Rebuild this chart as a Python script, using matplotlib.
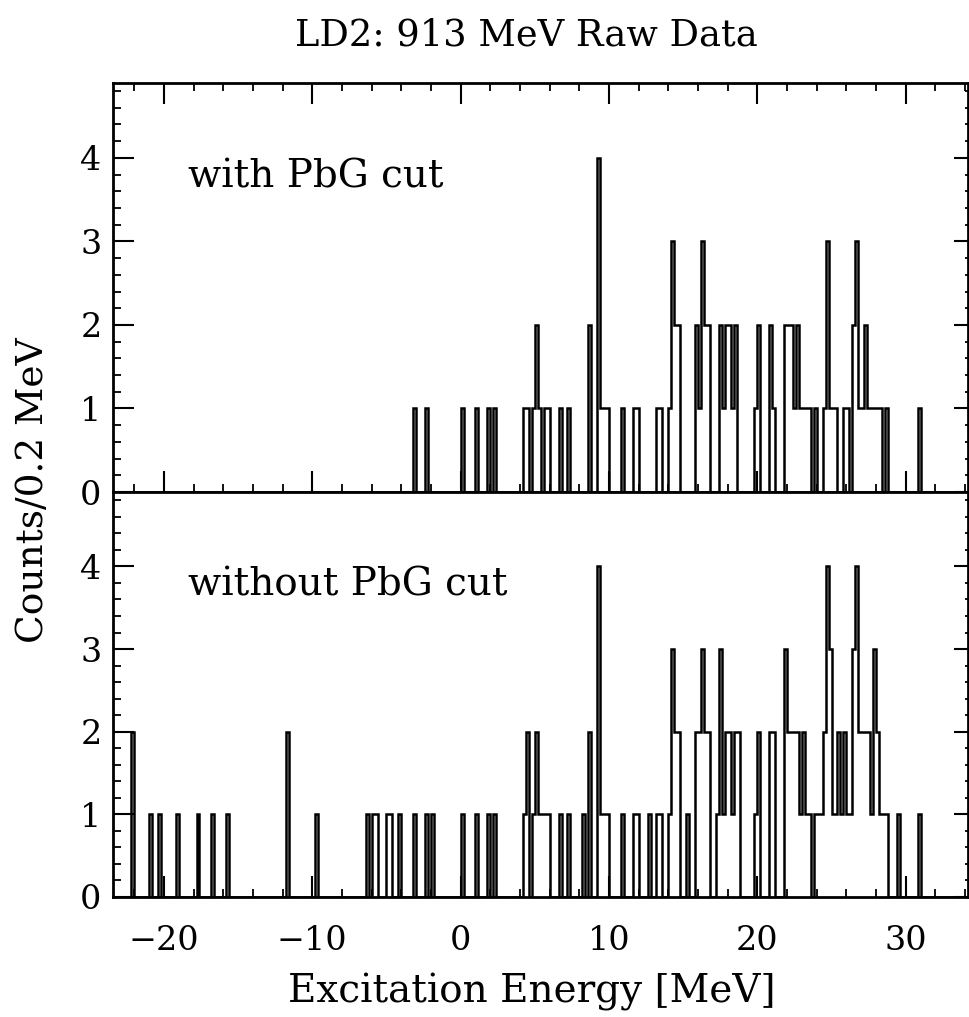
import numpy as np
import matplotlib
matplotlib.use('Agg')
import matplotlib.pyplot as plt
from matplotlib.ticker import MultipleLocator

# counts per 0.2 MeV bin, bins given by their lower edge
with_cut_bins = [-3.2, -2.4, 0.0, 1.0, 1.8, 2.2,
                 4.2, 4.4, 4.8, 5.0, 5.2, 5.6, 5.8,
                 6.6, 7.2, 8.6, 9.2, 9.4, 9.6, 9.8,
                 10.8, 11.6, 11.8, 13.2, 13.4,
                 14.0, 14.2, 14.4, 14.6,
                 15.8, 16.0, 16.2, 16.4, 16.6,
                 17.4, 17.6, 17.8, 18.0, 18.2, 18.4,
                 19.8, 20.0, 20.8, 21.0,
                 21.8, 22.0, 22.2, 22.4, 22.6, 22.8, 23.0, 23.2, 23.4, 23.8,
                 24.4, 24.6, 24.8, 25.0, 25.2,
                 25.8, 26.0, 26.4, 26.6, 26.8, 27.0, 27.2, 27.4, 27.6, 27.8, 28.0, 28.2, 28.6,
                 30.8]
with_cut_counts = [1, 1, 1, 1, 1, 1,
                   1, 1, 1, 2, 1, 1, 1,
                   1, 1, 2, 4, 1, 1, 1,
                   1, 1, 1, 1, 1,
                   1, 3, 2, 2,
                   2, 1, 3, 2, 2,
                   2, 1, 2, 2, 1, 2,
                   1, 2, 2, 1,
                   2, 2, 2, 1, 2, 1, 1, 1, 1, 1,
                   1, 3, 1, 1, 1,
                   1, 1, 2, 3, 1, 1, 2, 1, 1, 1, 1, 1, 1,
                   1]

without_cut_bins = [-22.2, -21.0, -20.4, -19.2, -17.8, -16.8, -15.8, -11.8, -9.8,
                    -6.4, -6.0, -5.8, -5.0, -4.8, -4.2, -3.2, -2.4, -2.0,
                    0.0, 1.0, 1.8, 2.2,
                    4.2, 4.4, 4.8, 5.0, 5.2, 5.4, 5.6, 5.8,
                    6.6, 7.2, 8.2, 8.6, 9.2, 9.4, 9.6, 9.8,
                    10.8, 11.6, 11.8, 12.6, 13.2, 13.4,
                    14.0, 14.2, 14.4, 14.6, 15.2,
                    15.8, 16.0, 16.2, 16.4, 16.6,
                    17.2, 17.4, 17.6, 17.8, 18.0, 18.2, 18.4, 18.6,
                    19.8, 20.0, 20.8, 21.0,
                    21.8, 22.0, 22.2, 22.4, 22.6, 22.8, 23.0, 23.2, 23.4, 23.8, 24.0, 24.2,
                    24.4, 24.6, 24.8, 25.0, 25.2,
                    25.4, 25.6, 25.8, 26.0, 26.2,
                    26.4, 26.6, 26.8, 27.0, 27.2, 27.4, 27.6, 27.8, 28.0, 28.2, 28.4, 28.6,
                    29.4, 30.8]
without_cut_counts = [2, 1, 1, 1, 1, 1, 1, 2, 1,
                      1, 1, 1, 1, 1, 1, 1, 1, 1,
                      1, 1, 1, 1,
                      1, 2, 1, 2, 1, 1, 1, 1,
                      1, 1, 1, 2, 4, 1, 1, 1,
                      1, 1, 1, 1, 1, 1,
                      1, 3, 2, 2, 1,
                      2, 2, 3, 2, 2,
                      1, 3, 1, 2, 2, 1, 2, 2,
                      1, 2, 2, 2,
                      3, 2, 2, 2, 2, 1, 2, 1, 1, 1, 1, 1,
                      2, 4, 3, 1, 1,
                      2, 1, 2, 1, 1,
                      3, 4, 2, 2, 2, 2, 1, 3, 2, 1, 1, 1,
                      1, 1]

panel_labels = ['with PbG cut', 'without PbG cut']

bin_w = 0.2
edges = np.round(np.arange(-23.4, 34.2 + 1e-9, bin_w), 2)


def to_hist(bins, counts):
    h = np.zeros(len(edges) - 1)
    for b, c in zip(bins, counts):
        h[int(round((b - edges[0]) / bin_w))] = c
    return h


plt.rcParams['font.family'] = 'DejaVu Serif'

fig = plt.figure(figsize=(9.69, 10.17), dpi=100)
ax1 = fig.add_axes([0.1163, 0.5162, 0.8827, 0.4025])
ax2 = fig.add_axes([0.1163, 0.1180, 0.8827, 0.3982])

data = [to_hist(with_cut_bins, with_cut_counts),
        to_hist(without_cut_bins, without_cut_counts)]

for ax, h, lab in zip([ax1, ax2], data, panel_labels):
    ax.stairs(h, edges, color='black', linewidth=1.8)
    ax.set_xlim(-23.45, 34.2)
    ax.set_ylim(0, 4.9)
    ax.xaxis.set_major_locator(MultipleLocator(10))
    ax.xaxis.set_minor_locator(MultipleLocator(2))
    ax.yaxis.set_major_locator(MultipleLocator(1))
    ax.yaxis.set_minor_locator(MultipleLocator(0.2))
    ax.tick_params(which='major', direction='in', length=15, width=1.5,
                   labelsize=24, pad=8)
    ax.tick_params(which='minor', direction='in', length=5.5, width=1.3)
    for s in ax.spines.values():
        s.set_linewidth(2)
    ax.spines['right'].set_visible(False)
    sec = ax.secondary_yaxis('right')
    sec.yaxis.set_major_locator(MultipleLocator(1))
    sec.yaxis.set_minor_locator(MultipleLocator(0.2))
    sec.tick_params(which='major', direction='in', length=10, width=1.5,
                    labelright=False)
    sec.tick_params(which='minor', direction='in', length=2.5, width=1.3)
    sec.spines['right'].set_linewidth(2)
    ax.text(-18.4, 3.65, lab, fontsize=28, va='baseline')

ax1.tick_params(which='both', top=True, labelbottom=False)
ax2.tick_params(which='both', top=False)
ax2.tick_params(axis='x', which='major', pad=20)

fig.text(0.543, 0.9548, 'LD2: 913 MeV Raw Data', fontsize=26.5,
         ha='center', va='baseline')
fig.text(0.549, 0.0147, 'Excitation Energy [MeV]', fontsize=28,
         ha='center', va='baseline')
fig.text(0.034, 0.518, 'Counts/0.2 MeV', fontsize=27, rotation=90,
         ha='center', va='center')

fig.savefig('out.png', dpi=100)
